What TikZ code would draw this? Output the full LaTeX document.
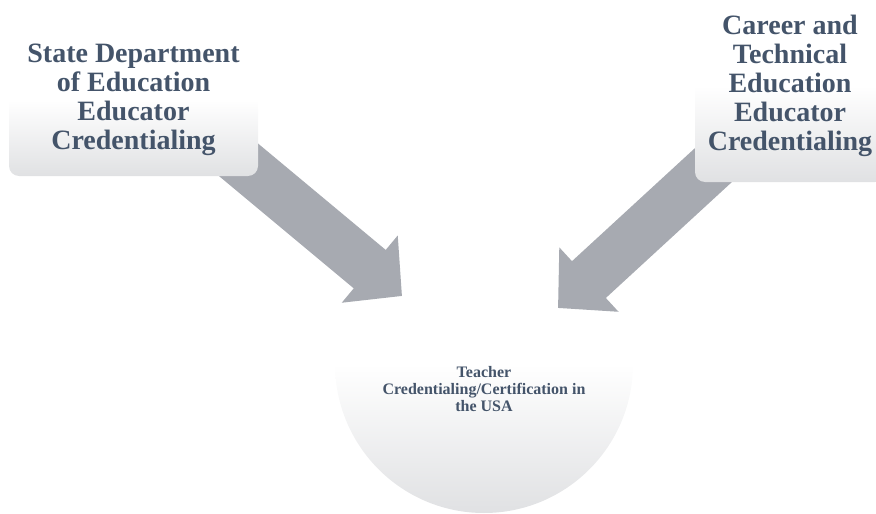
\documentclass[tikz,border=0pt]{standalone}
\usepackage{fontspec}
\setmainfont{Liberation Serif}
\usetikzlibrary{arrows.meta}

\definecolor{slatetext}{RGB}{68,84,106}
\definecolor{fadegrey}{RGB}{224,225,227}
\definecolor{arrowgrey}{RGB}{167,170,177}

\pgfdeclarelayer{back}
\pgfsetlayers{back,main}

\pgfdeclareverticalshading{whitefade}{100bp}{color(0bp)=(fadegrey); color(25bp)=(fadegrey); color(50bp)=(white); color(100bp)=(white)}

\tikzset{
    credbox/.style = {rectangle, rounded corners=10pt, shade, shading=whitefade,
        text=slatetext, align=center, inner sep=0pt,
        font=\fontsize{28}{29}\selectfont\bfseries},
    hub/.style = {circle, shade, shading=whitefade, inner sep=0pt, minimum size=298pt},
    hubtext/.style = {text=slatetext, align=center, inner sep=0pt,
        font=\fontsize{16}{17}\selectfont\bfseries},
    bigarrow/.style = {draw=arrowgrey, line width=50pt, shorten <=-45pt,
        -{Triangle[length=42pt,width=85pt]}}
}

\begin{document}
\begin{tikzpicture}[x=1pt, y=-1pt]

    \useasboundingbox (0,0) rectangle (876,514);

    \node[credbox,
    minimum width = 249pt,
    minimum height = 152pt] (sde) at (133.5,100) {State Department\\of Education\\Educator\\Credentialing};

    \node[credbox,
    minimum width = 190pt,
    minimum height = 192pt] (cte) at (790,86) {Career and\\Technical\\Education\\Educator\\Credentialing};

    \coordinate (sdetip) at (402,296);
    \coordinate (ctetip) at (558,308);

    \begin{pgfonlayer}{back}
      \node[hub] (usa) at (484,364) {};
      \node[hubtext] (usatext) at (484,389) {Teacher\\Credentialing/Certification in\\the USA};

      \draw[bigarrow] (sde.south east) to (sdetip);
      \draw[bigarrow] (cte.south west) to (ctetip);
    \end{pgfonlayer}

\end{tikzpicture}
\end{document}
